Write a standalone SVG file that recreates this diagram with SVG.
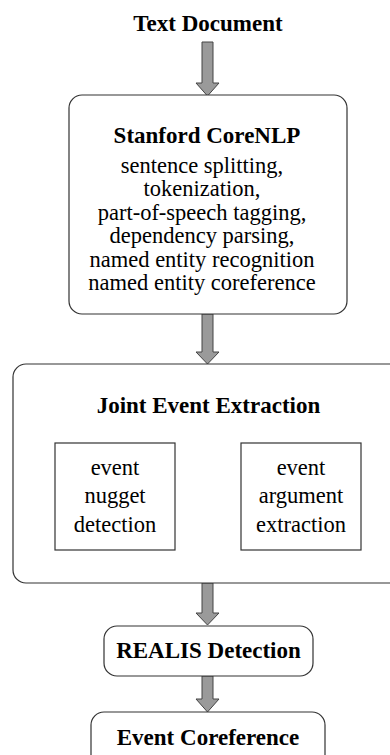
<svg xmlns="http://www.w3.org/2000/svg" width="390" height="755" viewBox="0 0 390 755">
<defs>
<style>
.box{fill:#fff;stroke:#333;stroke-width:1.2}
.b{font-family:"Liberation Serif","Times New Roman",serif;font-weight:bold;font-size:23px;fill:#000;text-anchor:middle}
.r{font-family:"Liberation Serif","Times New Roman",serif;font-size:22.5px;fill:#000;text-anchor:middle}
.arr{fill:#9a9a9a;stroke:#444;stroke-width:1}
</style>
</defs>
<rect width="390" height="755" fill="#fff"/>
<g id="connectors">
<path class="arr" d="M202,42 H213 V83 H219 L207.5,96 L196,83 H202 Z"/>
<path class="arr" d="M202,314 H213 V352 H219 L207.5,364 L196,352 H202 Z"/>
<path class="arr" d="M202,583 H213 V613 H219 L207.5,625 L196,613 H202 Z"/>
<path class="arr" d="M202,676 H213 V699 H219 L207.5,712 L196,699 H202 Z"/>
</g>
<g id="text-document">
<text class="b" x="208" y="31">Text Document</text>
</g>
<g id="corenlp">
<rect class="box" x="69" y="95" width="278" height="219" rx="13"/>
<text class="b" x="207" y="143">Stanford CoreNLP</text>
<text class="r" x="202" y="173">sentence splitting,</text>
<text class="r" x="202" y="196">tokenization,</text>
<text class="r" x="202" y="220">part-of-speech tagging,</text>
<text class="r" x="202" y="243">dependency parsing,</text>
<text class="r" x="202" y="267">named entity recognition</text>
<text class="r" x="202" y="290">named entity coreference</text>
</g>
<g id="joint">
<rect class="box" x="13" y="364" width="390" height="219" rx="13"/>
<text class="b" x="208.5" y="413">Joint Event Extraction</text>
</g>
<g id="nugget">
<rect class="box" x="55" y="443" width="120" height="107"/>
<text class="r" x="115" y="475">event</text>
<text class="r" x="115" y="503">nugget</text>
<text class="r" x="115" y="532">detection</text>
</g>
<g id="argument">
<rect class="box" x="241" y="443" width="120" height="107"/>
<text class="r" x="301" y="475">event</text>
<text class="r" x="301" y="503">argument</text>
<text class="r" x="301" y="532">extraction</text>
</g>
<g id="realis">
<rect class="box" x="104" y="626" width="209" height="50" rx="13"/>
<text class="b" x="208.5" y="658">REALIS Detection</text>
</g>
<g id="coref">
<rect class="box" x="91" y="712" width="234" height="60" rx="13"/>
<text class="b" x="208" y="745">Event Coreference</text>
</g>
</svg>
